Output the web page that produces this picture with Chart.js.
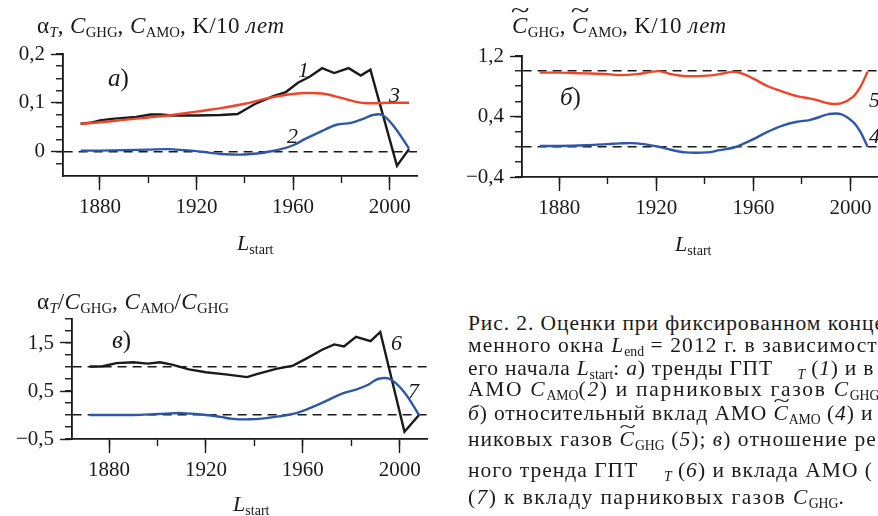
<!DOCTYPE html>
<html lang="ru">
<head>
<meta charset="utf-8">
<title>Рис. 2</title>
<script src="https://cdn.jsdelivr.net/npm/chart.js@4.4.1/dist/chart.umd.min.js"></script>
<style>
  html, body { margin: 0; padding: 0; background: #fff; }
  body {
    width: 878px; height: 516px; overflow: hidden; position: relative;
    font-family: 'Liberation Serif', 'Times New Roman', serif; color: #1a1a1a;
  }
  canvas { position: absolute; }
  .t { position: absolute; white-space: nowrap; line-height: 1; }
  .t sub { font-size: 0.64em; vertical-align: -0.3em; line-height: 1; font-style: normal; letter-spacing: 0; }
  .it { font-style: italic; }
  .ttl { letter-spacing: 0.4px; }
  .tc { position: relative; font-style: italic; }
  .tc::after {
    content: '~'; position: absolute; left: 0.1em; top: -0.6em;
    font-style: normal; transform: scaleX(1.5);
  }
  .cap .tc::after { top: -0.48em; transform: scaleX(1.4) scaleY(0.85); }
</style>
</head>
<body>
<canvas id="chartA" width="440" height="230" style="left:0;top:30px"></canvas>
<canvas id="chartB" width="438" height="230" style="left:440px;top:30px"></canvas>
<canvas id="chartC" width="440" height="221" style="left:0;top:295px"></canvas>

<script>
// ---- data (L_start, years) ----
const xTickYears  = [1880, 1900, 1920, 1940, 1960, 1980, 2000];
const xLabelYears = [1880, 1920, 1960, 2000];

// a) trends, K/10 years
const alphaYears = [1872, 1876, 1880, 1885, 1890, 1895, 1901, 1905, 1910, 1920, 1930, 1937, 1944, 1952, 1957, 1962, 1967, 1972, 1977, 1983, 1988, 1992, 2003, 2008];
const alphaT     = [0.057, 0.059, 0.064, 0.067, 0.069, 0.071, 0.076, 0.076, 0.074, 0.074, 0.075, 0.077, 0.097, 0.114, 0.122, 0.141, 0.154, 0.171, 0.161, 0.171, 0.156, 0.168, -0.029, 0.005];
const ghgYearsA  = [1872, 1880, 1890, 1900, 1910, 1920, 1930, 1940, 1950, 1958, 1965, 1972, 1980, 1986, 1991, 2000, 2008];
const cGHG       = [0.057, 0.060, 0.065, 0.070, 0.075, 0.082, 0.089, 0.098, 0.110, 0.117, 0.120, 0.119, 0.110, 0.102, 0.099, 0.100, 0.100];
const amoYearsA  = [1872, 1880, 1890, 1900, 1908, 1915, 1920, 1925, 1930, 1935, 1940, 1945, 1950, 1955, 1960, 1965, 1971, 1978, 1984, 1989, 1993, 1997, 2002, 2008];
const cAMO       = [0.002, 0.002, 0.003, 0.004, 0.005, 0.003, 0.001, -0.002, -0.005, -0.006, -0.006, -0.004, 0.000, 0.005, 0.013, 0.026, 0.040, 0.055, 0.059, 0.067, 0.075, 0.075, 0.050, 0.006];
const yTicksA  = [-0.025, 0, 0.025, 0.05, 0.075, 0.1, 0.125, 0.15, 0.175, 0.2];
const yLabelsA = [0, 0.1, 0.2];
const refLinesA = [0];

// b) relative contributions
const relYears = [1872, 1880, 1891, 1900, 1905, 1912, 1921, 1926, 1932, 1941, 1946, 1952, 1956, 1960, 1966, 1972, 1978, 1983, 1987, 1991, 1996, 2001, 2004, 2007];
const relGHG   = [0.98, 0.98, 0.97, 0.96, 0.947, 0.96, 1.0, 0.96, 0.934, 0.94, 0.96, 0.99, 0.96, 0.90, 0.80, 0.73, 0.67, 0.64, 0.61, 0.573, 0.573, 0.66, 0.79, 0.99];
const relAMO   = [0.01, 0.01, 0.02, 0.035, 0.045, 0.045, 0.0, -0.04, -0.075, -0.075, -0.045, -0.01, 0.04, 0.10, 0.20, 0.28, 0.33, 0.353, 0.39, 0.432, 0.432, 0.33, 0.20, 0.0];
const yTicksB  = [-0.4, -0.2, 0, 0.2, 0.4, 0.6, 0.8, 1.0, 1.2];
const yLabelsB = [-0.4, 0.4, 1.2];
const refLinesB = [0, 1];

// c) ratios to C_GHG
const ratioYears = [1872, 1877, 1883, 1890, 1896, 1901, 1906, 1913, 1920, 1929, 1937, 1941, 1949, 1956, 1962, 1968, 1973, 1977, 1982, 1988, 1992, 2002, 2008];
const alphaRatio = [1.01, 1.01, 1.08, 1.10, 1.07, 1.10, 1.05, 0.95, 0.89, 0.84, 0.79, 0.85, 0.96, 1.03, 1.19, 1.36, 1.47, 1.43, 1.63, 1.54, 1.73, -0.35, 0.0];
const amoRatioYears = [1872, 1880, 1890, 1900, 1910, 1920, 1926, 1931, 1938, 1944, 1950, 1958, 1967, 1976, 1982, 1987, 1991, 1996, 2002, 2008];
const amoRatio      = [0.0, 0.0, 0.0, 0.02, 0.04, 0.0, -0.04, -0.08, -0.09, -0.07, -0.03, 0.05, 0.23, 0.44, 0.53, 0.63, 0.75, 0.75, 0.47, 0.0];
const yTicksC  = [-0.5, -0.25, 0, 0.25, 0.5, 0.75, 1.0, 1.25, 1.5, 1.75, 2.0];
const yLabelsC = [-0.5, 0.5, 1.5];
const refLinesC = [0, 1];

const serif = "'Liberation Serif', 'Times New Roman', serif";
const ink = '#1a1a1a';
const red = '#ee4528';
const blue = '#2d57a8';

Chart.defaults.font.family = serif;

function fmtY(v) {
    if (Math.abs(v) < 1e-9) return '0';
    return (v < 0 ? '\u2212' : '') + Math.abs(v).toFixed(1).replace('.', ',');
}

function isIn(list, v) {
    return list.some(r => Math.abs(r - v) < 1e-9);
}

function makePanel(canvasId, cfg) {
    const ctx = document.getElementById(canvasId).getContext('2d');
    return new Chart(ctx, {
        type: 'line',
        data: {
            datasets: cfg.series.map(s => ({
                data: s.years.map((yr, i) => ({ x: yr, y: s.values[i] })),
                borderColor: s.color,
                borderWidth: 2.4,
                pointRadius: 0,
                tension: s.smooth ? 0.35 : 0,
                fill: false,
                xAxisID: 'x',
                yAxisID: 'y'
            }))
        },
        options: {
            responsive: false,
            animation: false,
            events: [],
            layout: { padding: cfg.padding },
            plugins: { legend: { display: false }, tooltip: { enabled: false } },
            scales: {
                // labelled x ticks (long)
                x: {
                    type: 'linear', position: 'bottom', weight: 1,
                    min: 1864.7, max: 2011.3,
                    afterBuildTicks: s => { s.ticks = xLabelYears.map(v => ({ value: v })); },
                    afterFit: s => { s.height = cfg.xHeight; },
                    ticks: {
                        autoSkip: false, maxRotation: 0, padding: 5, color: ink,
                        font: { size: 21 }, callback: v => String(v)
                    },
                    grid: { drawOnChartArea: false, tickLength: 14, tickColor: ink, tickWidth: 1.4 },
                    border: { color: ink, width: 1.6 }
                },
                // every 20 years (short)
                xMinor: {
                    type: 'linear', position: 'bottom', weight: 0,
                    min: 1864.7, max: 2011.3,
                    afterBuildTicks: s => { s.ticks = xTickYears.map(v => ({ value: v })); },
                    afterFit: s => { s.height = 0; },
                    ticks: { display: false },
                    grid: { drawOnChartArea: false, tickLength: 7, tickColor: ink, tickWidth: 1.4 },
                    border: { color: ink, width: 1.6 }
                },
                y: {
                    type: 'linear', position: 'left', weight: 1,
                    min: cfg.yMin, max: cfg.yMax,
                    afterBuildTicks: s => { s.ticks = cfg.yLabels.map(v => ({ value: v })); },
                    afterFit: s => { s.width = cfg.yWidth; },
                    ticks: {
                        autoSkip: false, padding: 6, color: ink,
                        font: { size: 21 }, callback: v => fmtY(v)
                    },
                    grid: { drawOnChartArea: false, tickLength: 12, tickColor: ink, tickWidth: 1.4 },
                    border: { color: ink, width: 1.6 }
                },
                // minor ticks + dashed reference lines
                yMinor: {
                    type: 'linear', position: 'left', weight: 0,
                    min: cfg.yMin, max: cfg.yMax,
                    afterBuildTicks: s => { s.ticks = cfg.yTicks.map(v => ({ value: v })); },
                    afterFit: s => { s.width = 0; },
                    ticks: { display: false },
                    grid: {
                        tickLength: 7, tickColor: ink, tickWidth: 1.4, lineWidth: 1.5,
                        color: c => (c.tick && isIn(cfg.refLines, c.tick.value)) ? ink : 'rgba(0,0,0,0)'
                    },
                    border: { color: ink, width: 1.6, dash: [9, 6] }
                }
            }
        }
    });
}

makePanel('chartA', {
    padding: { left: 0, top: 24, right: 23, bottom: 0 },
    yWidth: 63, xHeight: 84,
    yMin: -0.05, yMax: 0.2, yTicks: yTicksA, yLabels: yLabelsA, refLines: refLinesA,
    series: [
        { years: ghgYearsA, values: cGHG, color: red, smooth: true },
        { years: amoYearsA, values: cAMO, color: blue, smooth: true },
        { years: alphaYears, values: alphaT, color: ink, smooth: false }
    ]
});

makePanel('chartB', {
    padding: { left: 0, top: 26, right: 0, bottom: 0 },
    yWidth: 82, xHeight: 83,
    yMin: -0.4, yMax: 1.2, yTicks: yTicksB, yLabels: yLabelsB, refLines: refLinesB,
    series: [
        { years: relYears, values: relGHG, color: red, smooth: true },
        { years: relYears, values: relAMO, color: blue, smooth: true }
    ]
});

makePanel('chartC', {
    padding: { left: 0, top: 24, right: 13, bottom: 0 },
    yWidth: 72, xHeight: 77,
    yMin: -0.5, yMax: 2.0, yTicks: yTicksC, yLabels: yLabelsC, refLines: refLinesC,
    series: [
        { years: amoRatioYears, values: amoRatio, color: blue, smooth: true },
        { years: ratioYears, values: alphaRatio, color: ink, smooth: false }
    ]
});

// ---- text (titles, axis names, curve numbers, caption) ----
function put(x, baseline, size, html, cls) {
    const el = document.createElement('div');
    el.className = 't' + (cls ? ' ' + cls : '');
    el.style.left = x + 'px';
    el.style.top = (baseline - 0.8375 * size) + 'px';
    el.style.fontSize = size + 'px';
    el.innerHTML = '<span>' + html + '</span>';
    document.body.appendChild(el);
    return el;
}

const C = '<span class="it">C</span>';
const TC = '<span class="tc">C</span>';

put(37, 33, 23, 'α<sub style="font-style:italic">T</sub>, ' + C + '<sub>GHG</sub>, ' + C + '<sub>AMO</sub>, K/10 <span class="it">лет</span>', 'ttl');
put(512, 33, 23, TC + '<sub>GHG</sub>, ' + TC + '<sub>AMO</sub>, K/10 <span class="it">лет</span>', 'ttl');
put(37, 309, 23, 'α<sub style="font-style:italic">T</sub>/' + C + '<sub>GHG</sub>, ' + C + '<sub>AMO</sub>/' + C + '<sub>GHG</sub>', 'ttl');

put(237, 250, 22, '<span class="it">L</span><sub>start</sub>');
put(675, 251, 22, '<span class="it">L</span><sub>start</sub>');
put(233, 511, 22, '<span class="it">L</span><sub>start</sub>');

put(108, 86, 25, '<span class="it">а</span>)');
put(560, 105, 25, '<span class="it">б</span>)');
put(112, 348, 25, '<span class="it">в</span>)');

put(298, 77, 22, '1', 'it');
put(287, 143, 22, '2', 'it');
put(389, 102, 22, '3', 'it');
put(869, 107, 22, '5', 'it');
put(869, 143, 22, '4', 'it');
put(391, 350, 22, '6', 'it');
put(408, 398, 22, '7', 'it');

const L = '<span class="it">L</span>';
const captionLines = [
    [331, 884, 'Рис. 2. Оценки при фиксированном конце'],
    [353, 880, 'менного окна ' + L + '<sub>end</sub> = 2012 г. в зависимост'],
    [376, 878, 'его начала ' + L + '<sub>start</sub>: <span class="it">а</span>) тренды ГПТ &nbsp;&nbsp;&nbsp;<sub style="font-style:italic">T</sub> (<span class="it">1</span>) и в'],
    [397, 888, 'АМО ' + C + '<sub>AMO</sub>(<span class="it">2</span>) и парниковых газов ' + C + '<sub>GHG</sub>'],
    [421, 875, '<span class="it">б</span>) относительный вклад АМО ' + TC + '<sub>AMO</sub> (<span class="it">4</span>) и'],
    [447, 879, 'никовых газов ' + TC + '<sub>GHG</sub> (<span class="it">5</span>); <span class="it">в</span>) отношение ре'],
    [478, 873, 'ного тренда ГПТ &nbsp;&nbsp;&nbsp;<sub style="font-style:italic">T</sub> (<span class="it">6</span>) и вклада АМО ('],
    [505, 848, '(<span class="it">7</span>) к вкладу парниковых газов ' + C + '<sub>GHG</sub>.']
];

captionLines.forEach(([baseline, rightEdge, html]) => {
    const el = put(468, baseline, 21.5, html, 'cap');
    const natural = el.firstChild.getBoundingClientRect().width;
    const n = el.textContent.length;
    el.style.letterSpacing = ((rightEdge - 468 - natural) / (n - 1)) + 'px';
});
</script>
</body>
</html>
